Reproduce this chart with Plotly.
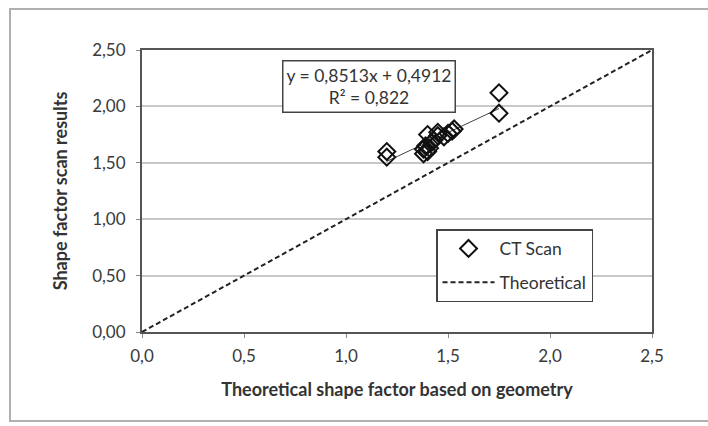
import plotly.graph_objects as go

# CT scan results (theoretical shape factor vs scan result)
ct_x = [1.20, 1.20, 1.38, 1.38, 1.39, 1.40, 1.40, 1.41, 1.42, 1.43, 1.45, 1.45, 1.48, 1.50, 1.52, 1.53, 1.75, 1.75]
ct_y = [1.60, 1.55, 1.62, 1.58, 1.65, 1.60, 1.75, 1.63, 1.68, 1.70, 1.77, 1.74, 1.73, 1.76, 1.78, 1.80, 2.12, 1.94]

# Linear fit reported on chart
slope = 0.8513
intercept = 0.4912
r2 = 0.822
trend_x = [min(ct_x), max(ct_x)]
trend_y = [slope * v + intercept for v in trend_x]

theo_x = [0.0, 2.5]
theo_y = [0.0, 2.5]

x_ticks = [0.0, 0.5, 1.0, 1.5, 2.0, 2.5]
y_ticks = [0.0, 0.5, 1.0, 1.5, 2.0, 2.5]

FONT = "Lato"

fig = go.Figure()
fig.add_trace(go.Scatter(
    x=trend_x, y=trend_y, mode="lines", showlegend=False,
    line=dict(color="#444444", width=1),
))
fig.add_trace(go.Scatter(
    x=ct_x, y=ct_y, mode="markers", name="CT Scan", legendgroup="a",
    marker=dict(symbol="diamond-open", size=13, color="#111111",
                line=dict(width=2, color="#111111")),
))
fig.add_trace(go.Scatter(
    x=theo_x, y=theo_y, mode="lines", name="Theoretical", legendgroup="b",
    line=dict(color="#222222", width=2, dash="5px,3px"),
))

fig.update_layout(
    width=708, height=426,
    margin=dict(l=142, r=56, t=50, b=94),
    paper_bgcolor="white", plot_bgcolor="white",
    separators=",.",
    font=dict(family=FONT, size=17, color="#333333"),
    showlegend=True,
    legend=dict(
        x=0.5765, y=0.365, xanchor="left", yanchor="top",
        bordercolor="#444444", borderwidth=1.5, bgcolor="white",
        font=dict(family=FONT, size=17.5, color="#333333"),
        tracegroupgap=8, itemwidth=52,
    ),
    xaxis=dict(
        range=[0, 2.5], tickvals=x_ticks, tickformat=".1f",
        showgrid=False, zeroline=False,
        showline=True, linecolor="#555555", linewidth=2, mirror=True,
        ticks="outside", ticklen=4, tickcolor="#888888",
        ticklabelstandoff=4,
        tickfont=dict(family=FONT, size=17, color="#3a3a3a"),
        title=dict(text="<b>Theoretical shape factor based on geometry</b>",
                   font=dict(family=FONT, size=18, color="#333333"), standoff=18),
    ),
    yaxis=dict(
        range=[0, 2.5], tickvals=y_ticks, tickformat=".2f",
        showgrid=True, gridcolor="#c8c8c8", gridwidth=1.5, zeroline=False,
        showline=True, linecolor="#555555", linewidth=2, mirror=True,
        ticks="outside", ticklen=4, tickcolor="#888888",
        ticklabelstandoff=7,
        tickfont=dict(family=FONT, size=17, color="#3a3a3a"),
        title=dict(text="<b>Shape factor scan results</b>",
                   font=dict(family=FONT, size=18, color="#333333"), standoff=20),
    ),
    annotations=[dict(
        xref="paper", yref="paper", x=0.4445, y=0.872,
        xanchor="center", yanchor="middle",
        text=f"y = {slope:.4f}x + {intercept:.4f}".replace(".", ",") + "<br>" +
             f"R² = {r2:.3f}".replace(".", ","),
        showarrow=False, align="center",
        font=dict(family=FONT, size=17.5, color="#333333"),
        bordercolor="#444444", borderwidth=1.5, borderpad=3, bgcolor="white",
    )],
    shapes=[dict(
        type="rect", xref="paper", yref="paper",
        x0=(10 - 142) / 510, x1=(712 - 142) / 510,
        y0=(332 - 421) / 282, y1=(332 - 9) / 282,
        line=dict(color="#b0b0b0", width=2), layer="below",
    )],
)

fig.write_html("out.html")
